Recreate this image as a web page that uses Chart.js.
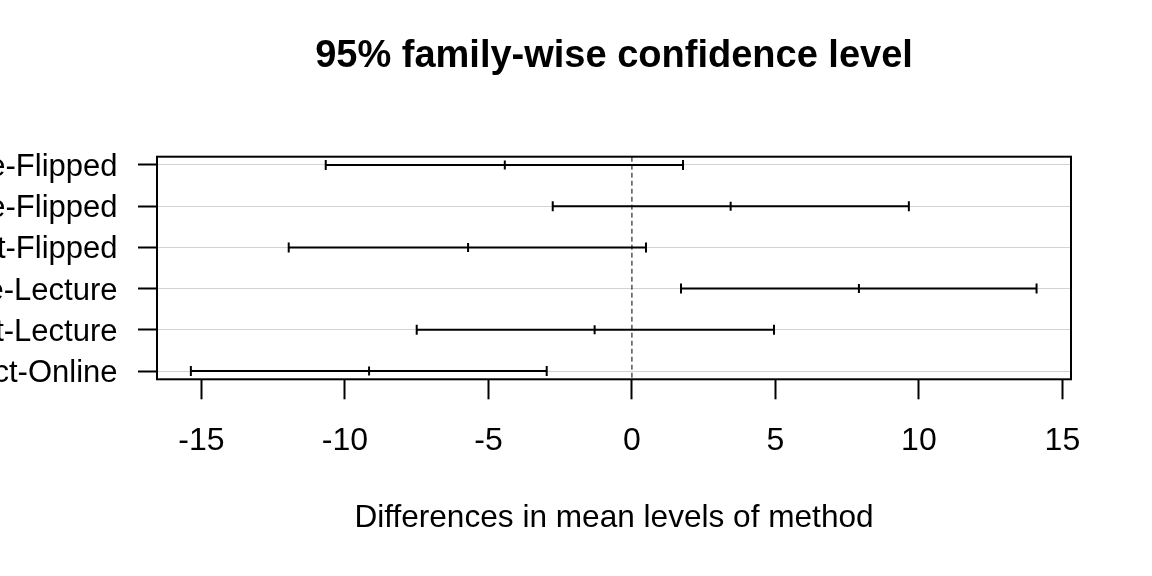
<!DOCTYPE html>
<html>
<head>
<meta charset="utf-8">
<script src="https://cdn.jsdelivr.net/npm/chart.js@4"></script>
<style>
  html, body { margin: 0; padding: 0; background: #ffffff; }
  #wrap { width: 1152px; height: 576px; }
</style>
</head>
<body>
<div id="wrap"><canvas id="tukeyChart" width="1152" height="576"></canvas></div>
<script>
// Tukey HSD comparisons, top row first
const comparisons = ["Lecture-Flipped", "Online-Flipped", "Project-Flipped", "Online-Lecture", "Project-Lecture", "Project-Online"];
const diffValues = [-4.43, 3.44, -5.71, 7.91, -1.30, -9.16];
const lowerValues = [-10.67, -2.76, -11.96, 1.71, -7.50, -15.37];
const upperValues = [1.78, 9.65, 0.49, 14.10, 4.95, -2.97];
const xTicks = [-15, -10, -5, 0, 5, 10, 15];
const rowPositions = [6, 5, 4, 3, 2, 1];

const FONT = "'Liberation Sans', Arial, 'DejaVu Sans', sans-serif";

// one dataset per comparison: lower, estimate, upper
const datasets = comparisons.map((name, i) => ({
    label: name,
    data: [
        { x: lowerValues[i], y: rowPositions[i] },
        { x: diffValues[i], y: rowPositions[i] },
        { x: upperValues[i], y: rowPositions[i] }
    ],
    showLine: true,
    borderColor: "#000000",
    borderWidth: 2,
    pointStyle: "line",
    pointRotation: 90,
    pointRadius: [5, 4.5, 5],
    pointBorderWidth: 2,
    pointBorderColor: "#000000",
    pointHoverRadius: 0
}));

// dashed zero line and the frame round the plot
const framePlugin = {
    id: "frame",
    beforeDatasetsDraw(chart) {
        const { ctx, chartArea, scales } = chart;
        const x0 = scales.x.getPixelForValue(0);
        ctx.save();
        ctx.strokeStyle = "#000000";
        ctx.lineWidth = 1;
        ctx.setLineDash([5, 3]);
        ctx.beginPath();
        ctx.moveTo(x0, chartArea.top);
        ctx.lineTo(x0, chartArea.bottom);
        ctx.stroke();
        ctx.restore();
    },
    afterDraw(chart) {
        const { ctx, chartArea } = chart;
        ctx.save();
        ctx.strokeStyle = "#000000";
        ctx.lineWidth = 2;
        ctx.strokeRect(chartArea.left, chartArea.top,
            chartArea.right - chartArea.left, chartArea.bottom - chartArea.top);
        ctx.restore();
    }
};

const ctx = document.getElementById("tukeyChart").getContext("2d");
new Chart(ctx, {
    type: "scatter",
    data: { datasets },
    plugins: [framePlugin],
    options: {
        responsive: false,
        animation: false,
        devicePixelRatio: 1,
        layout: { padding: { top: 0, right: 81, bottom: 0, left: 0 } },
        plugins: {
            legend: { display: false },
            tooltip: { enabled: false },
            title: {
                display: true,
                fullSize: false,
                text: "95% family-wise confidence level",
                color: "#000000",
                font: { family: FONT, size: 38, weight: "bold", lineHeight: 1.2 },
                padding: { top: 33.9, bottom: 77.2 }
            }
        },
        scales: {
            x: {
                type: "linear",
                min: -16.55,
                max: 15.30,
                afterBuildTicks: scale => {
                    scale.ticks = xTicks.map(v => ({ value: v }));
                },
                afterFit: scale => { scale.height = 196.7; },
                border: { display: false },
                grid: {
                    drawOnChartArea: false,
                    drawTicks: true,
                    tickLength: 20,
                    tickColor: "#000000",
                    tickWidth: 2
                },
                ticks: {
                    color: "#000000",
                    font: { family: FONT, size: 32 },
                    padding: 22.5,
                    maxRotation: 0,
                    autoSkip: false
                },
                title: {
                    display: true,
                    text: "Differences in mean levels of method",
                    color: "#000000",
                    font: { family: FONT, size: 31.6, lineHeight: 1.2 },
                    padding: { top: 0, bottom: 38.7 }
                }
            },
            y: {
                type: "linear",
                min: 0.8,
                max: 6.2,
                afterBuildTicks: scale => {
                    scale.ticks = rowPositions.map(v => ({ value: v }));
                },
                afterFit: scale => { scale.width = 157; },
                border: { display: false },
                grid: {
                    color: "#d3d3d3",
                    lineWidth: 1,
                    drawTicks: true,
                    tickLength: 19,
                    tickColor: "#000000",
                    tickWidth: 2
                },
                ticks: {
                    color: "#000000",
                    font: { family: FONT, size: 31 },
                    padding: 20.5,
                    labelOffset: 2.5,
                    autoSkip: false,
                    callback: value => {
                        const idx = rowPositions.indexOf(value);
                        return idx >= 0 ? comparisons[idx] : "";
                    }
                }
            }
        }
    }
});
</script>
</body>
</html>
